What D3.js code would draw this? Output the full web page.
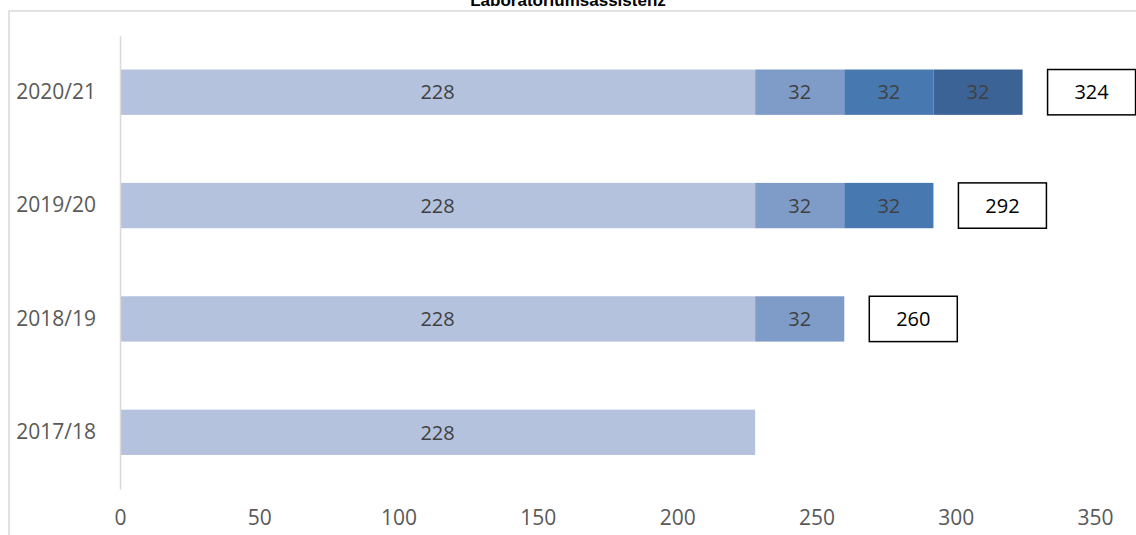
<!DOCTYPE html>
<html><head><meta charset="utf-8">
<script src="https://cdn.jsdelivr.net/npm/d3@7"></script>
<style>body{margin:0;background:#fff}svg{display:block}</style>
</head><body>
<script>
const title = "Laboratoriumsassistenz";
const categories = ["2020/21", "2019/20", "2018/19", "2017/18"];
const seriesA = [228, 228, 228, 228];
const seriesB = [32, 32, 32, 0];
const seriesC = [32, 32, 0, 0];
const seriesD = [32, 0, 0, 0];
const totals = [324, 292, 260, null];
const xTicks = [0, 50, 100, 150, 200, 250, 300, 350];
const colors = ["#b4c2de", "#7f9cc8", "#4878b0", "#3b6395"];

const W = 1136, H = 535;
const svg = d3.select("body").append("svg").attr("width", W).attr("height", H);
const font = "'Open Sans', sans-serif";

// frame
svg.append("rect").attr("x", 9).attr("y", 11).attr("width", W + 20).attr("height", H + 20)
  .attr("fill", "none").attr("stroke", "#d9d9d9").attr("stroke-width", 1.5);

svg.append("text").attr("x", 568).attr("y", 6).attr("text-anchor", "middle")
  .attr("font-family", "'Liberation Sans', Arial, sans-serif").attr("font-weight", "bold")
  .attr("font-size", 17).attr("fill", "#000").text(title);

const x = d3.scaleLinear().domain([0, 350]).range([120, 1095]);
const y = d3.scaleBand().domain(categories).range([35.5, 489]).paddingInner(0.6).paddingOuter(0.3);

const series = [seriesA, seriesB, seriesC, seriesD];
const rows = categories.map((c, i) => {
  const o = {cat: c};
  series.forEach((s, k) => o["s" + k] = s[i]);
  return o;
});
const stack = d3.stack().keys(["s0", "s1", "s2", "s3"])(rows);

stack.forEach((layer, k) => {
  const g = svg.append("g");
  layer.forEach(d => {
    const v = d[1] - d[0];
    if (!v) return;
    g.append("rect").attr("x", x(d[0])).attr("y", y(d.data.cat))
      .attr("width", x(d[1]) - x(d[0])).attr("height", y.bandwidth())
      .attr("fill", colors[k]);
    g.append("text").attr("x", (x(d[0]) + x(d[1])) / 2).attr("y", y(d.data.cat) + y.bandwidth() / 2)
      .attr("dy", "0.36em").attr("text-anchor", "middle")
      .attr("font-family", font).attr("font-size", 20).attr("fill", "#404040").text(v);
  });
});

// totals boxes
categories.forEach((c, i) => {
  if (totals[i] == null) return;
  const x0 = x(totals[i]) + 25;
  svg.append("rect").attr("x", x0).attr("y", y(c)).attr("width", 88).attr("height", y.bandwidth())
    .attr("fill", "#fff").attr("stroke", "#000").attr("stroke-width", 1.5);
  svg.append("text").attr("x", x0 + 44).attr("y", y(c) + y.bandwidth() / 2).attr("dy", "0.36em")
    .attr("text-anchor", "middle").attr("font-family", font).attr("font-size", 20)
    .attr("fill", "#000").text(totals[i]);
});

// y axis
const ya = svg.append("g").attr("transform", `translate(120,0)`)
  .call(d3.axisLeft(y).tickSize(0).tickPadding(24));
ya.select(".domain").attr("stroke", "#d9d9d9").attr("stroke-width", 1.5);
ya.selectAll("text").attr("font-family", font).attr("font-size", 21).attr("fill", "#595959");

// x axis labels
const xa = svg.append("g").attr("transform", `translate(0,489)`)
  .call(d3.axisBottom(x).tickValues(xTicks).tickSize(0).tickPadding(21));
xa.select(".domain").remove();
xa.selectAll("text").attr("font-family", font).attr("font-size", 21).attr("fill", "#595959");
</script>
</body></html>
